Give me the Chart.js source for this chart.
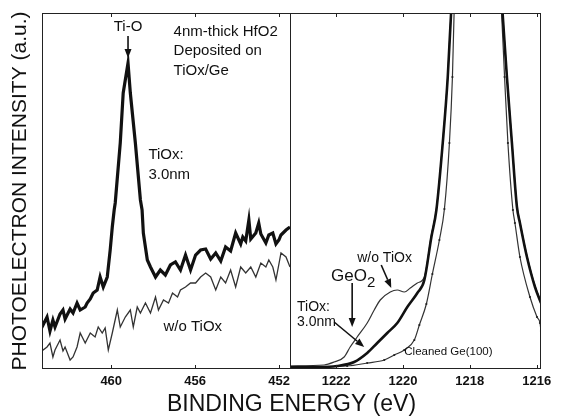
<!DOCTYPE html>
<html>
<head>
<meta charset="utf-8">
<script src="https://cdn.jsdelivr.net/npm/chart.js@4.4.0/dist/chart.umd.min.js"></script>
<style>
  html, body { margin: 0; padding: 0; background: #fff; }
</style>
</head>
<body>
<canvas id="xps" width="564" height="416"></canvas>
<script>
// Ti 2p region, left panel (binding energy in eV, intensity in a.u.)
const tiEnergyTiOx = [463.30, 463.25, 463.06, 462.92, 462.78, 462.68, 462.44, 462.30, 462.20, 461.96,
  461.82, 461.63, 461.48, 461.24, 461.15, 461.00, 460.86, 460.67, 460.53, 460.38,
  460.19, 460.05, 459.95, 459.86, 459.81, 459.57, 459.43, 459.20, 459.09, 458.85,
  458.61, 458.53, 458.47, 458.28, 458.13, 457.89, 457.66, 457.42, 457.18, 456.94,
  456.70, 456.46, 456.22, 455.98, 455.74, 455.50, 455.26, 455.02, 454.78, 454.55,
  454.31, 454.07, 453.83, 453.73, 453.59, 453.44, 453.35, 453.11, 452.97, 452.87,
  452.63, 452.49, 452.30, 452.15, 452.01, 451.91, 451.67, 451.48];
const tiTiOx = [48, 44, 52, 38, 49, 42, 55, 59, 50, 60,
  56, 66, 59, 62, 66, 70, 76, 79, 92, 82,
  92, 119, 142, 159, 166, 226, 276, 306, 276, 226,
  169, 159, 136, 109, 102, 92, 99, 94, 104, 107,
  99, 114, 99, 114, 119, 120, 110, 116, 108, 122,
  118, 136, 125, 132, 128, 149, 130, 136, 146, 135,
  126, 134, 136, 125, 129, 134, 139, 142];

const tiEnergyBare = [463.30, 463.25, 463.06, 462.92, 462.78, 462.68, 462.44, 462.30, 462.20, 461.96,
  461.82, 461.63, 461.48, 461.24, 461.00, 460.77, 460.62, 460.43, 460.29, 460.14,
  459.95, 459.71, 459.57, 459.33, 459.09, 458.95, 458.76, 458.61, 458.37, 458.13,
  457.89, 457.75, 457.51, 457.27, 457.08, 456.84, 456.70, 456.46, 456.22, 455.98,
  455.74, 455.50, 455.26, 455.02, 454.78, 454.55, 454.31, 454.07, 453.83, 453.59,
  453.35, 453.11, 452.87, 452.63, 452.49, 452.30, 452.15, 451.91, 451.67, 451.48];
const tiBare = [19, 19, 22, 26, 12, 19, 29, 18, 22, 9,
  12, 22, 36, 26, 36, 32, 42, 36, 41, 19,
  36, 59, 42, 52, 59, 42, 62, 56, 66, 56,
  72, 59, 69, 66, 76, 72, 79, 82, 86, 86,
  92, 96, 92, 79, 92, 86, 99, 82, 102, 96,
  102, 92, 106, 102, 109, 102, 89, 116, 112, 102];

// Ge 2p region, right panel
const geEnergyTiOx = [1223.38, 1222.51, 1221.97, 1221.46, 1221.07, 1220.77, 1220.47, 1220.17, 1219.87, 1219.57,
  1219.36, 1219.15, 1219.00, 1218.81, 1218.66, 1218.56, 1217.79, 1217.02, 1216.89, 1216.74,
  1216.59, 1216.50, 1216.29, 1216.05, 1215.87];
const geTiOx = [2, 2, 3, 7, 16, 26, 36, 46, 62, 76,
  89, 132, 159, 226, 292, 356, 720, 356, 292, 226,
  162, 146, 112, 82, 66];

const geEnergyBare = [1223.38, 1222.36, 1222.06, 1221.76, 1221.58, 1221.37, 1221.07, 1220.86, 1220.68, 1220.38,
  1220.17, 1219.96, 1219.78, 1219.57, 1219.36, 1219.15, 1219.00, 1218.81, 1218.66, 1218.56,
  1217.79, 1217.02, 1216.89, 1216.74, 1216.59, 1216.50, 1216.29, 1216.05, 1215.87];
const geBare = [3, 4, 7, 12, 22, 32, 46, 59, 69, 77,
  79, 77, 81, 86, 92, 134, 160, 227, 293, 357,
  722, 357, 293, 227, 163, 147, 113, 83, 67];

const geEnergyClean = [1223.38, 1221.67, 1221.07, 1220.56, 1220.26, 1219.96, 1219.66, 1219.51, 1219.30, 1219.12,
  1218.91, 1218.76, 1218.61, 1218.52, 1218.47, 1217.80, 1217.05, 1216.96, 1216.86, 1216.71,
  1216.65, 1216.50, 1216.20, 1215.99, 1215.90, 1215.87];
const geClean = [2, 3, 6, 9, 14, 19, 29, 44, 65, 95,
  129, 160, 226, 292, 356, 740, 356, 292, 226, 159,
  146, 112, 72, 52, 46, 38];

const tiTicks = [460, 456, 452];
const geTicks = [1222, 1220, 1218, 1216];

// labels written inside the panels, placed in data units
const tiNotes = [
  { text: 'Ti-O', e: 459.2, i: 342, align: 'center' },
  { text: '4nm-thick HfO2', e: 457.03, i: 337 },
  { text: 'Deposited on', e: 457.03, i: 318 },
  { text: 'TiOx/Ge', e: 457.03, i: 298 },
  { text: 'TiOx:', e: 458.23, i: 214 },
  { text: '3.0nm', e: 458.23, i: 194 },
  { text: 'w/o TiOx', e: 457.51, i: 42 }
];
const geNotes = [
  { text: 'w/o TiOx', e: 1221.37, i: 111 },
  { text: 'TiOx:', e: 1223.17, i: 62 },
  { text: '3.0nm', e: 1223.17, i: 47 },
  { text: 'Cleaned Ge(100)', e: 1219.96, i: 17, size: 11.5 }
];
const tiArrows = [[459.2, 333, 459.2, 311]];
const geArrows = [
  [1220.65, 104, 1220.35, 81],
  [1221.52, 86, 1221.52, 42],
  [1222.06, 47, 1221.16, 22]
];

const FONT = '"Liberation Sans", Arial, sans-serif';
const ink = '#111';

function pts(xs, ys) {
  return xs.map((x, k) => ({ x: x, y: ys[k] }));
}

function arrow(ctx, x1, y1, x2, y2) {
  const a = Math.atan2(y2 - y1, x2 - x1);
  const hl = 9, hw = 3.5;
  ctx.beginPath();
  ctx.moveTo(x1, y1);
  ctx.lineTo(x2 - hl * Math.cos(a), y2 - hl * Math.sin(a));
  ctx.lineWidth = 1.6;
  ctx.stroke();
  ctx.beginPath();
  ctx.moveTo(x2, y2);
  ctx.lineTo(x2 - hl * Math.cos(a) + hw * Math.sin(a), y2 - hl * Math.sin(a) - hw * Math.cos(a));
  ctx.lineTo(x2 - hl * Math.cos(a) - hw * Math.sin(a), y2 - hl * Math.sin(a) + hw * Math.cos(a));
  ctx.closePath();
  ctx.fill();
}

const frameAndNotes = {
  id: 'frameAndNotes',
  afterDatasetsDraw(chart) {
    const ctx = chart.ctx;
    const a = chart.chartArea;
    const xL = chart.scales.xL, xR = chart.scales.xR, y = chart.scales.y;
    ctx.save();
    ctx.strokeStyle = '#222';
    ctx.fillStyle = ink;
    ctx.lineWidth = 1;
    ctx.strokeRect(a.left + 0.5, a.top + 0.5, a.right - a.left - 1, a.bottom - a.top - 1);
    ctx.beginPath();
    ctx.moveTo(Math.round(xR.left) + 0.5, a.top);
    ctx.lineTo(Math.round(xR.left) + 0.5, a.bottom);
    ctx.stroke();

    // small inward tick marks
    [[xL, tiTicks], [xR, geTicks]].forEach(([s, ticks]) => {
      ticks.forEach(v => {
        const px = Math.round(s.getPixelForValue(v)) + 0.5;
        ctx.beginPath();
        ctx.moveTo(px, a.bottom); ctx.lineTo(px, a.bottom - 4);
        ctx.moveTo(px, a.top); ctx.lineTo(px, a.top + 4);
        ctx.stroke();
      });
    });

    ctx.textBaseline = 'middle';
    tiNotes.forEach(n => {
      ctx.font = (n.size || 15) + 'px ' + FONT;
      ctx.textAlign = n.align || 'left';
      ctx.fillText(n.text, xL.getPixelForValue(n.e), y.getPixelForValue(n.i));
    });
    geNotes.forEach(n => {
      ctx.font = (n.size || 14) + 'px ' + FONT;
      ctx.textAlign = n.align || 'left';
      ctx.fillText(n.text, xR.getPixelForValue(n.e), y.getPixelForValue(n.i));
    });
    // GeO2 with subscript
    ctx.textAlign = 'left';
    ctx.font = '17px ' + FONT;
    const gx = xR.getPixelForValue(1222.15), gy = y.getPixelForValue(93);
    ctx.fillText('GeO', gx, gy);
    const gw = ctx.measureText('GeO').width;
    ctx.font = '15px ' + FONT;
    ctx.fillText('2', gx + gw, gy + 7);

    ctx.strokeStyle = ink;
    tiArrows.forEach(r => arrow(ctx, xL.getPixelForValue(r[0]), y.getPixelForValue(r[1]),
      xL.getPixelForValue(r[2]), y.getPixelForValue(r[3])));
    geArrows.forEach(r => arrow(ctx, xR.getPixelForValue(r[0]), y.getPixelForValue(r[1]),
      xR.getPixelForValue(r[2]), y.getPixelForValue(r[3])));
    ctx.restore();
  }
};

const tickFont = { family: FONT, size: 13, weight: 'bold' };

new Chart(document.getElementById('xps'), {
  type: 'line',
  data: {
    datasets: [
      { label: 'TiOx 3.0nm (Ti)', xAxisID: 'xL', data: pts(tiEnergyTiOx, tiTiOx),
        borderColor: ink, borderWidth: 3.2, pointRadius: 0, tension: 0 },
      { label: 'w/o TiOx (Ti)', xAxisID: 'xL', data: pts(tiEnergyBare, tiBare),
        borderColor: '#333', borderWidth: 1.3, pointRadius: 0, tension: 0 },
      { label: 'TiOx 3.0nm (Ge)', xAxisID: 'xR', data: pts(geEnergyTiOx, geTiOx),
        borderColor: ink, borderWidth: 2.6, pointRadius: 0, cubicInterpolationMode: 'monotone' },
      { label: 'w/o TiOx (Ge)', xAxisID: 'xR', data: pts(geEnergyBare, geBare),
        borderColor: '#333', borderWidth: 1.2, pointRadius: 0, cubicInterpolationMode: 'monotone' },
      { label: 'Cleaned Ge(100)', xAxisID: 'xR', data: pts(geEnergyClean, geClean),
        borderColor: '#333', borderWidth: 1.2, pointRadius: 1.1, pointBackgroundColor: '#222',
        pointBorderWidth: 0, cubicInterpolationMode: 'monotone' }
    ]
  },
  options: {
    responsive: false,
    animation: false,
    devicePixelRatio: 1,
    layout: { padding: { top: 13, right: 23, left: 0, bottom: 0 } },
    plugins: {
      legend: { display: false },
      tooltip: { enabled: false },
      title: {
        display: true, position: 'bottom', fullSize: false,
        text: 'BINDING ENERGY (eV)', color: ink,
        font: { family: FONT, size: 23, weight: 'normal', lineHeight: 1 },
        padding: 0
      }
    },
    scales: {
      xL: {
        type: 'linear', position: 'bottom', stack: 'energy', stackWeight: 248,
        reverse: true, min: 451.48, max: 463.30,
        grid: { display: false, drawTicks: false }, border: { display: false },
        ticks: { color: ink, font: tickFont, padding: 5, callback: v => String(v) },
        afterBuildTicks: s => { s.ticks = tiTicks.map(v => ({ value: v })); },
        afterFit: s => { s.height = 24; }
      },
      xR: {
        type: 'linear', position: 'bottom', stack: 'energy', stackWeight: 251,
        reverse: true, min: 1215.87, max: 1223.38,
        grid: { display: false, drawTicks: false }, border: { display: false },
        ticks: { color: ink, font: tickFont, padding: 5, callback: v => String(v) },
        afterBuildTicks: s => { s.ticks = geTicks.map(v => ({ value: v })); },
        afterFit: s => { s.height = 24; }
      },
      y: {
        type: 'linear', position: 'left', min: 0, max: 356,
        grid: { display: false, drawTicks: false }, border: { display: false },
        ticks: { display: false },
        title: {
          display: true, text: 'PHOTOELECTRON INTENSITY (a.u.)', color: ink,
          font: { family: FONT, size: 21, weight: 'normal' },
          padding: { top: 8, bottom: 0 }
        },
        afterFit: s => { s.width = 42; }
      }
    }
  },
  plugins: [frameAndNotes]
});
</script>
</body>
</html>
